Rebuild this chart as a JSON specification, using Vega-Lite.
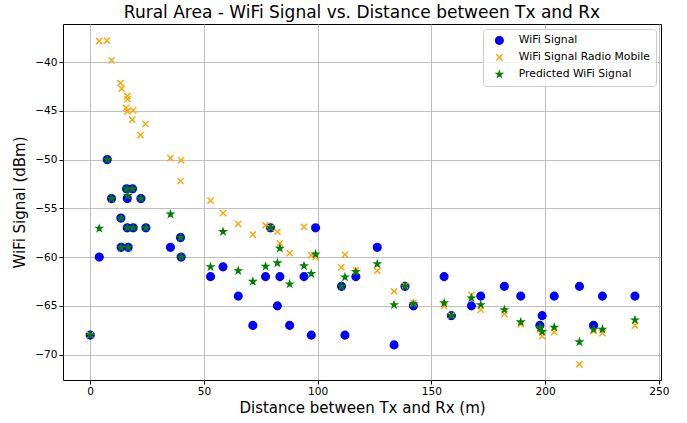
{
"$schema": "https://vega.github.io/schema/vega-lite/v6.json",
"width": 598,
"height": 356,
"autosize": "none",
"padding": {"left": 63, "top": 24, "right": 26, "bottom": 42},
"background": "white",
"title": {"text": "Rural Area - WiFi Signal vs. Distance between Tx and Rx", "fontSize": 17, "font": "DejaVu Sans", "fontWeight": "normal", "color": "black", "anchor": "middle", "offset": 2},
"datasets": {
"pts": [
{"series": "WiFi Signal", "distance": 0, "signal": -68},
{"series": "WiFi Signal", "distance": 4, "signal": -60},
{"series": "WiFi Signal", "distance": 7.5, "signal": -50},
{"series": "WiFi Signal", "distance": 9.4, "signal": -54},
{"series": "WiFi Signal", "distance": 13.5, "signal": -56},
{"series": "WiFi Signal", "distance": 13.6, "signal": -59},
{"series": "WiFi Signal", "distance": 16, "signal": -53},
{"series": "WiFi Signal", "distance": 16.3, "signal": -54},
{"series": "WiFi Signal", "distance": 16.3, "signal": -57},
{"series": "WiFi Signal", "distance": 16.7, "signal": -59},
{"series": "WiFi Signal", "distance": 18.6, "signal": -53},
{"series": "WiFi Signal", "distance": 18.9, "signal": -57},
{"series": "WiFi Signal", "distance": 22.3, "signal": -54},
{"series": "WiFi Signal", "distance": 24.5, "signal": -57},
{"series": "WiFi Signal", "distance": 35.3, "signal": -59},
{"series": "WiFi Signal", "distance": 39.7, "signal": -58},
{"series": "WiFi Signal", "distance": 40, "signal": -60},
{"series": "WiFi Signal", "distance": 52.9, "signal": -62},
{"series": "WiFi Signal", "distance": 58.4, "signal": -61},
{"series": "WiFi Signal", "distance": 65.1, "signal": -64},
{"series": "WiFi Signal", "distance": 71.5, "signal": -67},
{"series": "WiFi Signal", "distance": 77.1, "signal": -62},
{"series": "WiFi Signal", "distance": 79.3, "signal": -57},
{"series": "WiFi Signal", "distance": 82.3, "signal": -65},
{"series": "WiFi Signal", "distance": 83.4, "signal": -62},
{"series": "WiFi Signal", "distance": 87.7, "signal": -67},
{"series": "WiFi Signal", "distance": 94, "signal": -62},
{"series": "WiFi Signal", "distance": 97.2, "signal": -68},
{"series": "WiFi Signal", "distance": 99.1, "signal": -57},
{"series": "WiFi Signal", "distance": 110.5, "signal": -63},
{"series": "WiFi Signal", "distance": 112, "signal": -68},
{"series": "WiFi Signal", "distance": 116.8, "signal": -62},
{"series": "WiFi Signal", "distance": 126.2, "signal": -59},
{"series": "WiFi Signal", "distance": 133.6, "signal": -69},
{"series": "WiFi Signal", "distance": 138.4, "signal": -63},
{"series": "WiFi Signal", "distance": 142.1, "signal": -65},
{"series": "WiFi Signal", "distance": 155.6, "signal": -62},
{"series": "WiFi Signal", "distance": 158.8, "signal": -66},
{"series": "WiFi Signal", "distance": 167.6, "signal": -65},
{"series": "WiFi Signal", "distance": 171.7, "signal": -64},
{"series": "WiFi Signal", "distance": 182.1, "signal": -63},
{"series": "WiFi Signal", "distance": 189.3, "signal": -64},
{"series": "WiFi Signal", "distance": 197.7, "signal": -67},
{"series": "WiFi Signal", "distance": 198.7, "signal": -66},
{"series": "WiFi Signal", "distance": 204, "signal": -64},
{"series": "WiFi Signal", "distance": 215.1, "signal": -63},
{"series": "WiFi Signal", "distance": 221.3, "signal": -67},
{"series": "WiFi Signal", "distance": 225.2, "signal": -64},
{"series": "WiFi Signal", "distance": 239.5, "signal": -64},
{"series": "WiFi Signal Radio Mobile", "distance": 0, "signal": -68},
{"series": "WiFi Signal Radio Mobile", "distance": 3.96, "signal": -37.85},
{"series": "WiFi Signal Radio Mobile", "distance": 7.3, "signal": -37.8},
{"series": "WiFi Signal Radio Mobile", "distance": 9.4, "signal": -39.84},
{"series": "WiFi Signal Radio Mobile", "distance": 13.3, "signal": -42.15},
{"series": "WiFi Signal Radio Mobile", "distance": 13.8, "signal": -42.73},
{"series": "WiFi Signal Radio Mobile", "distance": 16.3, "signal": -43.5},
{"series": "WiFi Signal Radio Mobile", "distance": 16.4, "signal": -43.8},
{"series": "WiFi Signal Radio Mobile", "distance": 15.8, "signal": -44.7},
{"series": "WiFi Signal Radio Mobile", "distance": 16.3, "signal": -45.05},
{"series": "WiFi Signal Radio Mobile", "distance": 18.9, "signal": -44.95},
{"series": "WiFi Signal Radio Mobile", "distance": 18.5, "signal": -45.9},
{"series": "WiFi Signal Radio Mobile", "distance": 24.3, "signal": -46.35},
{"series": "WiFi Signal Radio Mobile", "distance": 22.1, "signal": -47.5},
{"series": "WiFi Signal Radio Mobile", "distance": 35.3, "signal": -49.85},
{"series": "WiFi Signal Radio Mobile", "distance": 40, "signal": -50.05},
{"series": "WiFi Signal Radio Mobile", "distance": 39.7, "signal": -52.2},
{"series": "WiFi Signal Radio Mobile", "distance": 52.9, "signal": -54.2},
{"series": "WiFi Signal Radio Mobile", "distance": 58.4, "signal": -55.5},
{"series": "WiFi Signal Radio Mobile", "distance": 65.1, "signal": -56.6},
{"series": "WiFi Signal Radio Mobile", "distance": 71.5, "signal": -57.7},
{"series": "WiFi Signal Radio Mobile", "distance": 77.1, "signal": -56.75},
{"series": "WiFi Signal Radio Mobile", "distance": 79.3, "signal": -57},
{"series": "WiFi Signal Radio Mobile", "distance": 82.3, "signal": -57.4},
{"series": "WiFi Signal Radio Mobile", "distance": 83.4, "signal": -58.6},
{"series": "WiFi Signal Radio Mobile", "distance": 87.7, "signal": -59.6},
{"series": "WiFi Signal Radio Mobile", "distance": 94, "signal": -56.9},
{"series": "WiFi Signal Radio Mobile", "distance": 97.2, "signal": -59.8},
{"series": "WiFi Signal Radio Mobile", "distance": 99.1, "signal": -60},
{"series": "WiFi Signal Radio Mobile", "distance": 110.4, "signal": -61.05},
{"series": "WiFi Signal Radio Mobile", "distance": 112, "signal": -59.75},
{"series": "WiFi Signal Radio Mobile", "distance": 116.8, "signal": -61.35},
{"series": "WiFi Signal Radio Mobile", "distance": 126.2, "signal": -61.4},
{"series": "WiFi Signal Radio Mobile", "distance": 133.6, "signal": -63.5},
{"series": "WiFi Signal Radio Mobile", "distance": 138.4, "signal": -62.9},
{"series": "WiFi Signal Radio Mobile", "distance": 142.1, "signal": -64.7},
{"series": "WiFi Signal Radio Mobile", "distance": 155.6, "signal": -65},
{"series": "WiFi Signal Radio Mobile", "distance": 158.8, "signal": -66},
{"series": "WiFi Signal Radio Mobile", "distance": 167.6, "signal": -63.9},
{"series": "WiFi Signal Radio Mobile", "distance": 171.7, "signal": -65.4},
{"series": "WiFi Signal Radio Mobile", "distance": 182.1, "signal": -65.85},
{"series": "WiFi Signal Radio Mobile", "distance": 189.3, "signal": -66.9},
{"series": "WiFi Signal Radio Mobile", "distance": 197.7, "signal": -67.4},
{"series": "WiFi Signal Radio Mobile", "distance": 198.7, "signal": -68.1},
{"series": "WiFi Signal Radio Mobile", "distance": 204, "signal": -67.7},
{"series": "WiFi Signal Radio Mobile", "distance": 215.1, "signal": -71},
{"series": "WiFi Signal Radio Mobile", "distance": 221.3, "signal": -67.6},
{"series": "WiFi Signal Radio Mobile", "distance": 225.2, "signal": -67.8},
{"series": "WiFi Signal Radio Mobile", "distance": 239.5, "signal": -67},
{"series": "Predicted WiFi Signal", "distance": 0, "signal": -68},
{"series": "Predicted WiFi Signal", "distance": 4, "signal": -57.06},
{"series": "Predicted WiFi Signal", "distance": 7.5, "signal": -50},
{"series": "Predicted WiFi Signal", "distance": 9.4, "signal": -54},
{"series": "Predicted WiFi Signal", "distance": 13.5, "signal": -56},
{"series": "Predicted WiFi Signal", "distance": 13.6, "signal": -59},
{"series": "Predicted WiFi Signal", "distance": 16, "signal": -53},
{"series": "Predicted WiFi Signal", "distance": 16.5, "signal": -53.7},
{"series": "Predicted WiFi Signal", "distance": 16.3, "signal": -57},
{"series": "Predicted WiFi Signal", "distance": 16.7, "signal": -59},
{"series": "Predicted WiFi Signal", "distance": 18.6, "signal": -53},
{"series": "Predicted WiFi Signal", "distance": 18.9, "signal": -57},
{"series": "Predicted WiFi Signal", "distance": 22.3, "signal": -54},
{"series": "Predicted WiFi Signal", "distance": 24.5, "signal": -57},
{"series": "Predicted WiFi Signal", "distance": 35.3, "signal": -55.6},
{"series": "Predicted WiFi Signal", "distance": 39.7, "signal": -58},
{"series": "Predicted WiFi Signal", "distance": 40, "signal": -60},
{"series": "Predicted WiFi Signal", "distance": 52.9, "signal": -61},
{"series": "Predicted WiFi Signal", "distance": 58.4, "signal": -57.4},
{"series": "Predicted WiFi Signal", "distance": 65.1, "signal": -61.4},
{"series": "Predicted WiFi Signal", "distance": 71.5, "signal": -62.5},
{"series": "Predicted WiFi Signal", "distance": 77.1, "signal": -60.95},
{"series": "Predicted WiFi Signal", "distance": 79.3, "signal": -57},
{"series": "Predicted WiFi Signal", "distance": 82.3, "signal": -60.6},
{"series": "Predicted WiFi Signal", "distance": 83.4, "signal": -59.1},
{"series": "Predicted WiFi Signal", "distance": 87.7, "signal": -62.76},
{"series": "Predicted WiFi Signal", "distance": 94, "signal": -60.9},
{"series": "Predicted WiFi Signal", "distance": 97.2, "signal": -61.7},
{"series": "Predicted WiFi Signal", "distance": 99.1, "signal": -59.7},
{"series": "Predicted WiFi Signal", "distance": 110.5, "signal": -63},
{"series": "Predicted WiFi Signal", "distance": 112, "signal": -62.05},
{"series": "Predicted WiFi Signal", "distance": 116.8, "signal": -61.5},
{"series": "Predicted WiFi Signal", "distance": 126.2, "signal": -60.7},
{"series": "Predicted WiFi Signal", "distance": 133.6, "signal": -64.9},
{"series": "Predicted WiFi Signal", "distance": 138.4, "signal": -63},
{"series": "Predicted WiFi Signal", "distance": 142.1, "signal": -64.8},
{"series": "Predicted WiFi Signal", "distance": 155.6, "signal": -64.7},
{"series": "Predicted WiFi Signal", "distance": 158.8, "signal": -66},
{"series": "Predicted WiFi Signal", "distance": 167.6, "signal": -64.2},
{"series": "Predicted WiFi Signal", "distance": 171.7, "signal": -64.9},
{"series": "Predicted WiFi Signal", "distance": 182.1, "signal": -65.4},
{"series": "Predicted WiFi Signal", "distance": 189.3, "signal": -66.65},
{"series": "Predicted WiFi Signal", "distance": 197.7, "signal": -67.2},
{"series": "Predicted WiFi Signal", "distance": 198.7, "signal": -67.65},
{"series": "Predicted WiFi Signal", "distance": 204, "signal": -67.2},
{"series": "Predicted WiFi Signal", "distance": 215.1, "signal": -68.7},
{"series": "Predicted WiFi Signal", "distance": 221.3, "signal": -67.4},
{"series": "Predicted WiFi Signal", "distance": 225.2, "signal": -67.4},
{"series": "Predicted WiFi Signal", "distance": 239.5, "signal": -66.45}
]
},
"data": {"name": "pts"},
"mark": {"type": "point", "filled": true, "size": 60, "strokeWidth": 1.4, "opacity": 1},
"encoding": {
"x": {"field": "distance", "type": "quantitative", "scale": {"domain": [-11.95, 250.95], "nice": false, "zero": false}, "axis": {"values": [0, 50, 100, 150, 200, 250], "title": "Distance between Tx and Rx (m)", "titlePadding": 4}},
"y": {"field": "signal", "type": "quantitative", "scale": {"domain": [-72.6, -36.1], "nice": false, "zero": false}, "axis": {"values": [-70, -65, -60, -55, -50, -45, -40], "title": "WiFi Signal (dBm)", "titlePadding": 7}},
"color": {"field": "series", "type": "nominal", "scale": {"domain": ["WiFi Signal", "WiFi Signal Radio Mobile", "Predicted WiFi Signal"], "range": ["#0000ff", "#ffa500", "#008000"]}, "legend": {"title": null}},
"stroke": {"field": "series", "type": "nominal", "scale": {"domain": ["WiFi Signal", "WiFi Signal Radio Mobile", "Predicted WiFi Signal"], "range": ["#0000ff", "#ffa500", "#008000"]}, "legend": {"title": null}},
"shape": {"field": "series", "type": "nominal", "scale": {"domain": ["WiFi Signal", "WiFi Signal Radio Mobile", "Predicted WiFi Signal"], "range": ["circle", "M-0.8,-0.8L0.8,0.8M-0.8,0.8L0.8,-0.8", "M0,-0.78L0.176,-0.241L0.742,-0.241L0.283,0.092L0.459,0.631L0,0.298L-0.459,0.631L-0.283,0.092L-0.742,-0.241L-0.176,-0.241Z"]}, "legend": {"title": null}}
},
"config": {
"font": "DejaVu Sans",
"view": {"stroke": "black", "strokeWidth": 1},
"axis": {"domain": false, "grid": true, "gridColor": "#b0b0b0", "gridWidth": 0.8, "tickColor": "black", "tickSize": 4, "labelFontSize": 10.6, "labelColor": "black", "labelFont": "DejaVu Sans", "titleFont": "DejaVu Sans", "titleFontSize": 15, "titleFontWeight": "normal", "titleColor": "black"},
"legend": {"orient": "top-right", "offset": 5, "fillColor": "rgba(255,255,255,0.8)", "strokeColor": "#cccccc", "cornerRadius": 3, "padding": 6, "labelFontSize": 10.8, "labelFont": "DejaVu Sans", "labelColor": "black", "rowPadding": 4, "symbolStrokeWidth": 1.3, "symbolSize": 60, "symbolOffset": 5, "labelOffset": 14}
}
}
